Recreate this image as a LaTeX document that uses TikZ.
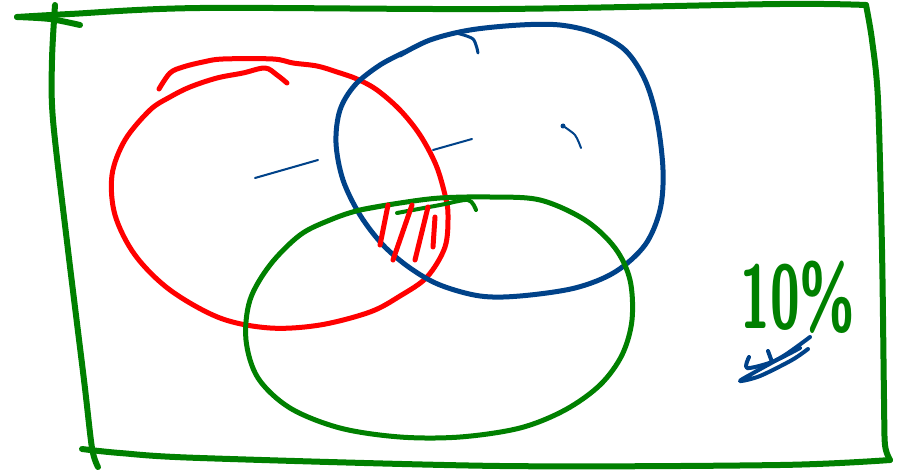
\documentclass[tikz,border=0pt]{standalone}
\usepackage{graphicx}
\definecolor{pgreen}{RGB}{0,128,0}
\definecolor{pblue}{RGB}{0,66,137}
\definecolor{pred}{RGB}{255,0,0}
\tikzset{
  ink/.style={line width=5pt, line cap=round, line join=round},
  frameink/.style={line width=6pt, line cap=round, line join=round, pgreen},
  fineink/.style={line width=2pt, line cap=round, line join=round},
}
\begin{document}
\begin{tikzpicture}[x=1pt,y=-1pt]
\useasboundingbox (0,0) rectangle (899,476);
% frame
\draw[frameink] plot[smooth,tension=0.5] coordinates {(17,17)(70,14)(200,8)(500,9)(780,4)(866,5)};
\draw[frameink] plot[smooth,tension=0.5] coordinates {(17,17)(50,19)(80,25)};
\draw[frameink] plot[smooth,tension=0.5] coordinates {(866,5)(872,40)(878,100)(882,250)(884,400)(885,445)(890,460)};
\draw[frameink] plot[smooth,tension=0.5] coordinates {(890,460)(780,465)(500,466)(200,458)(120,453)(82,449)};
\draw[frameink] plot[smooth,tension=0.5] coordinates {(55,5)(52,60)(53,120)(68,250)(84,380)(92,448)(98,467)};
% red set
\draw[ink,pred] plot[smooth,tension=0.55] coordinates {(159,89)(170,73)(183,67)(203,62)(223,59)(273,59)(293,63)(317,66)(337,72)(357,79)(377,90)(400,110)(420,135)(436,165)(445,195)(448,215)(445,247)(427,277)(400,296)(370,312)(320,325)(270,328)(220,318)(170,290)(135,255)(115,215)(112,175)(125,140)(150,110)(170,97)(190,87)(217,78)(243,73)(265,68)(277,75)(287,83)};
% blue set
\draw[ink,pblue] plot[smooth,tension=0.55] coordinates {(400,55)(430,40)(470,30)(520,25)(560,25)(595,33)(625,50)(645,80)(657,120)(663,170)(660,210)(645,245)(615,272)(575,288)(520,296)(480,296)(440,285)(410,268)(383,245)(360,215)(343,180)(336,143)(340,110)(355,85)(380,65)(405,52)};
\draw[pblue,line width=3pt,line cap=round] plot[smooth] coordinates {(456,33)(473,39)(478,53)};
% green set
\draw[ink,pgreen] plot[smooth,tension=0.55] coordinates {(360,210)(400,203)(440,198)(490,197)(540,200)(585,220)(615,248)(630,280)(632,320)(622,355)(600,385)(565,410)(520,428)(460,437)(400,437)(340,428)(290,408)(258,378)(246,340)(250,300)(270,265)(300,235)(330,220)(360,210)(400,203)};
\draw[pgreen,line width=4pt,line cap=round,line join=round] plot[smooth] coordinates {(397,213)(440,205)(468,200)(476,210)};
% hatching
\draw[ink,pred] (388,205) -- (380,245);
\draw[ink,pred] (412,205) -- (393,260);
\draw[ink,pred] (428,207) -- (415,260);
\draw[ink,pred] (435,217) -- (433,247);
% small blue marks
\draw[fineink,pblue] plot[smooth] coordinates {(255,178)(283,170)(318,160)};
\draw[fineink,pblue] (433,150) -- (472,139);
\fill[pblue] (563,126) circle (2.5);
\draw[fineink,pblue] plot[smooth] coordinates {(563,126)(575,135)(581,148)};
% label
\node[anchor=base, text=pgreen, inner sep=0pt, font=\sffamily\bfseries\fontsize{90}{90}\selectfont] (pct) at (798,328) {\scalebox{0.6}[1]{10\%}};
% blue scribble
\draw[pblue,line width=4pt,line cap=round,line join=round] plot[smooth] coordinates {(810,337)(785,355)(755,372)(740,381)(760,376)(792,360)(808,349)};
\draw[pblue,line width=4pt,line cap=round,line join=round] plot[smooth] coordinates {(749,357)(747,368)(772,362)(800,348)};
\draw[pblue,line width=4pt,line cap=round] (768,351) -- (772,362);
\end{tikzpicture}
\end{document}
